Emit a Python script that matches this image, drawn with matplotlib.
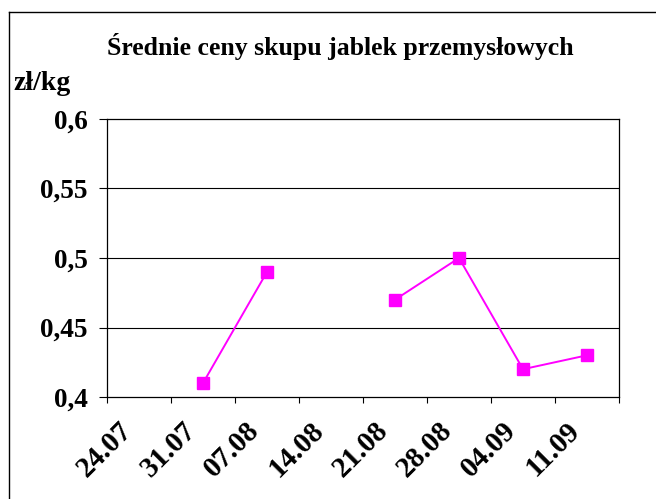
import matplotlib
matplotlib.use("Agg")
import matplotlib.pyplot as plt
import matplotlib.transforms as mtransforms
from matplotlib.lines import Line2D
import numpy as np

# data
dates = ["24.07", "31.07", "07.08", "14.08", "21.08", "28.08", "04.09", "11.09"]
prices = [np.nan, 0.41, 0.49, np.nan, 0.47, 0.50, 0.42, 0.43]
yticks = [0.4, 0.45, 0.5, 0.55, 0.6]
ytick_labels = ["0,4", "0,45", "0,5", "0,55", "0,6"]

title = "Średnie ceny skupu jablek przemysłowych"
unit = "zł/kg"

plt.rcParams["font.family"] = ["Liberation Serif", "DejaVu Serif"]
plt.rcParams["font.weight"] = "bold"

W, H = 656, 499
fig = plt.figure(figsize=(W / 100, H / 100), dpi=100)
ax = fig.add_axes([107 / W, 1 - 397 / H, (619 - 107) / W, (397 - 119) / H])

x = np.arange(1, len(dates) + 1)
ax.plot(x, prices, color="#FF00FF", lw=1.4, marker="s", markersize=8.5,
        markeredgecolor="#FF00FF", markerfacecolor="#FF00FF")

ax.set_xlim(0.5, len(dates) + 0.5)
ax.set_ylim(0.4, 0.6)

# y axis
ax.set_yticks(yticks)
ax.set_yticklabels(ytick_labels, fontsize=19.5, fontweight="bold")
ax.tick_params(axis="y", direction="out", length=6, width=0.8, pad=8)
for yv in yticks[1:-1]:
    ax.axhline(yv, color="black", lw=0.8, zorder=0)

# x axis: tick marks between categories, labels on categories
ax.set_xticks(np.arange(0.5, len(dates) + 1, 1.0))
ax.set_xticklabels([])
ax.tick_params(axis="x", which="major", direction="out", length=4.5, width=0.8)
ax.set_xticks(x, minor=True)
ax.set_xticklabels(dates, minor=True, rotation=45, ha="right", va="top",
                   fontsize=21, fontweight="bold")
ax.tick_params(axis="x", which="minor", length=0, pad=14)
offset = mtransforms.ScaledTranslation(-2 / 100, 0, fig.dpi_scale_trans)
for lab in ax.get_xticklabels(minor=True):
    lab.set_transform(lab.get_transform() + offset)

for s in ax.spines.values():
    s.set_color("black")
    s.set_linewidth(0.9)

fig.text(340 / W, 1 - 47 / H, title, ha="center", va="center",
         fontsize=18.5, fontweight="bold")
fig.text(13 / W, 1 - 83 / H, unit, ha="left", va="center",
         fontsize=20, fontweight="bold")

# outer chart frame (left and top edges visible)
fig.add_artist(Line2D([9 / W, 9 / W], [0, 1 - 12 / H], transform=fig.transFigure,
                      color="black", lw=1.0))
fig.add_artist(Line2D([9 / W, 1], [1 - 12 / H, 1 - 12 / H], transform=fig.transFigure,
                      color="black", lw=1.0))

fig.savefig("out.png", dpi=100)
